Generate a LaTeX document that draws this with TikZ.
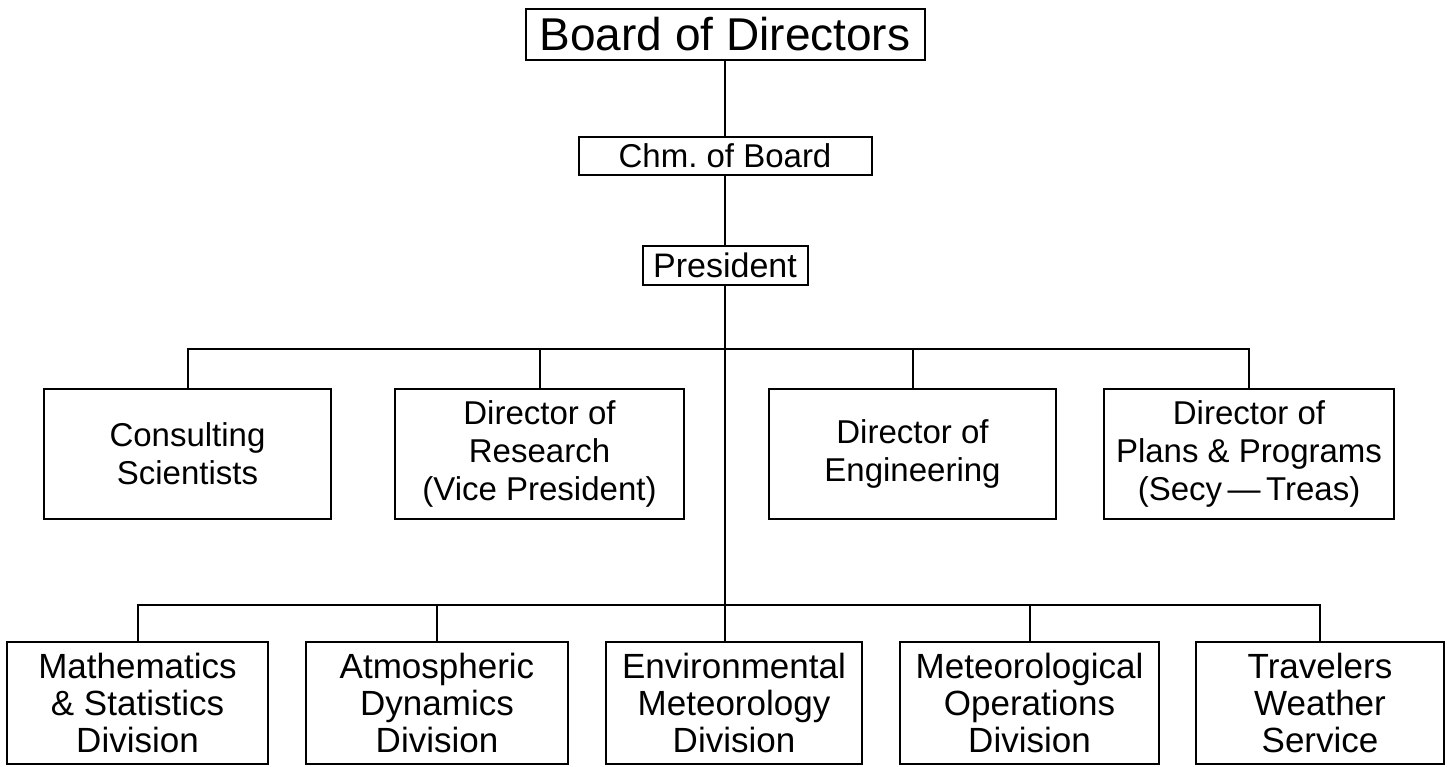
\documentclass[tikz,border=0pt]{standalone}
\usepackage{fontspec}
\setmainfont{Liberation Sans}
\usetikzlibrary{positioning}

\begin{document}
\begin{tikzpicture}[x=0.5pt,y=-0.5pt,
    box/.style={draw,line width=1pt,align=center,inner sep=0pt},
    officebox/.style={box,minimum height=65pt,font=\fontsize{16.5}{19}\selectfont},
    divbox/.style={box,minimum height=61pt,font=\fontsize{17.5}{18.5}\selectfont},
    link/.style={line width=1pt}]
  \useasboundingbox (0,0) rectangle (1450,766);

  % top of the chain
  \node[box,minimum width=199.5pt,minimum height=25.5pt,font=\fontsize{23}{27}\selectfont] (board) at (725,34.5) {Board of Directors};
  \node[box,minimum width=146.5pt,minimum height=19pt,font=\fontsize{16.5}{19}\selectfont,below=37.5pt of board] (chm) {Chm.\ of Board};
  \node[box,minimum width=82.5pt,minimum height=19.5pt,font=\fontsize{17}{19}\selectfont,below=34.5pt of chm] (pres) {President};

  % second row
  \node[officebox,minimum width=143.5pt] (cons) at (187.5,454) {Consulting\\Scientists};
  \node[officebox,minimum width=144.5pt,right=31pt of cons] (res) {Director of\\Research\\(Vice President)};
  \node[officebox,minimum width=143.5pt,right=41.5pt of res] (eng) {Director of\\Engineering};
  \node[officebox,minimum width=145pt,right=23pt of eng] (plans) {Director of\\Plans \& Programs\\(Secy\,---\,Treas)};

  % divisions
  \node[divbox,minimum width=130.5pt] (math) at (137.5,703) {Mathematics\\\& Statistics\\Division};
  \node[divbox,minimum width=131pt,right=18pt of math] (atm) {Atmospheric\\Dynamics\\Division};
  \node[divbox,minimum width=128pt,right=18pt of atm] (env) {Environmental\\Meteorology\\Division};
  \node[divbox,minimum width=129.5pt,right=18pt of env] (met) {Meteorological\\Operations\\Division};
  \node[divbox,minimum width=124pt,right=17.5pt of met] (trav) {Travelers\\Weather\\Service};

  \coordinate (bus2) at (727,349);
  \coordinate (bus3) at (727,605);

  \draw[link] (board) -- (chm);
  \draw[link] (chm) -- (pres);
  \draw[link] (pres.south) -- (pres.south |- env.north);
  \draw[link] (cons.north) |- (bus2) -| (plans.north);
  \draw[link] (res.north) -- (res.north |- bus2);
  \draw[link] (eng.north) -- (eng.north |- bus2);
  \draw[link] (math.north) |- (bus3) -| (trav.north);
  \draw[link] (atm.north) -- (atm.north |- bus3);
  \draw[link] (met.north) -- (met.north |- bus3);
\end{tikzpicture}
\end{document}
